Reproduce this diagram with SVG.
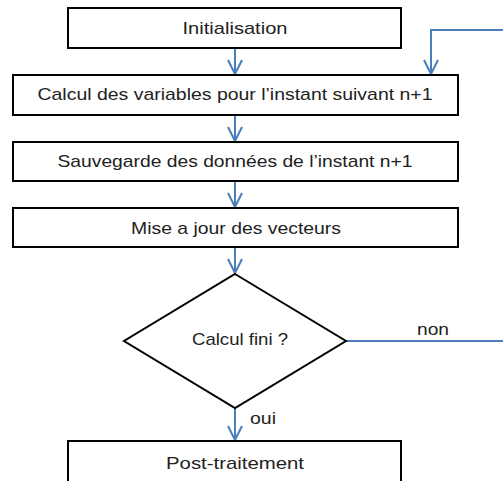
<svg xmlns="http://www.w3.org/2000/svg" width="503" height="481" viewBox="0 0 503 481">
<defs>
<style>
.box{fill:#fff;stroke:#000;stroke-width:2}
.lbl{font-family:"Liberation Sans",Arial,sans-serif;font-size:17px;fill:#222;text-anchor:middle}
.edge{fill:none;stroke:#4A7EBB;stroke-width:2}
.elbl{font-family:"Liberation Sans",Arial,sans-serif;font-size:17px;fill:#222}
</style>
<marker id="arr" viewBox="0 0 16 16" refX="15" refY="8" markerWidth="16" markerHeight="16" markerUnits="userSpaceOnUse" orient="auto">
<path d="M1,1 L15,8 L1,15" fill="none" stroke="#4A7EBB" stroke-width="2"/>
</marker>
</defs>
<rect width="503" height="481" fill="#fff"/>
<g id="connectors">
<line class="edge" x1="235" y1="48" x2="235" y2="74" marker-end="url(#arr)"/>
<line class="edge" x1="235" y1="115" x2="235" y2="141" marker-end="url(#arr)"/>
<line class="edge" x1="235" y1="181" x2="235" y2="207" marker-end="url(#arr)"/>
<line class="edge" x1="235" y1="247" x2="235" y2="273" marker-end="url(#arr)"/>
<line class="edge" x1="235" y1="408" x2="235" y2="440" marker-end="url(#arr)"/>
<path class="edge" d="M346,341 H506 V30 H431 V74" marker-end="url(#arr)"/>
<text class="elbl" x="417" y="335" textLength="32" lengthAdjust="spacingAndGlyphs">non</text>
<text class="elbl" x="250" y="424" textLength="26" lengthAdjust="spacingAndGlyphs">oui</text>
</g>
<g id="n-init">
<rect class="box" x="68" y="8" width="333" height="40"/>
<text class="lbl" x="235" y="34" textLength="105" lengthAdjust="spacingAndGlyphs">Initialisation</text>
</g>
<g id="n-calcul">
<rect class="box" x="13" y="75" width="445" height="40"/>
<text class="lbl" x="235" y="100" textLength="395" lengthAdjust="spacingAndGlyphs">Calcul des variables pour l’instant suivant n+1</text>
</g>
<g id="n-sauvegarde">
<rect class="box" x="13" y="142" width="445" height="39"/>
<text class="lbl" x="235" y="167" textLength="355" lengthAdjust="spacingAndGlyphs">Sauvegarde des données de l’instant n+1</text>
</g>
<g id="n-maj">
<rect class="box" x="13" y="208" width="445" height="39"/>
<text class="lbl" x="236" y="234" textLength="210" lengthAdjust="spacingAndGlyphs">Mise a jour des vecteurs</text>
</g>
<g id="n-test">
<polygon class="box" points="235,274 346,341 235,408 124,341"/>
<text class="lbl" x="240" y="345" textLength="96" lengthAdjust="spacingAndGlyphs">Calcul fini ?</text>
</g>
<g id="n-post">
<rect class="box" x="68" y="441" width="333" height="60"/>
<text class="lbl" x="235" y="469" textLength="138" lengthAdjust="spacingAndGlyphs">Post-traitement</text>
</g>
</svg>
